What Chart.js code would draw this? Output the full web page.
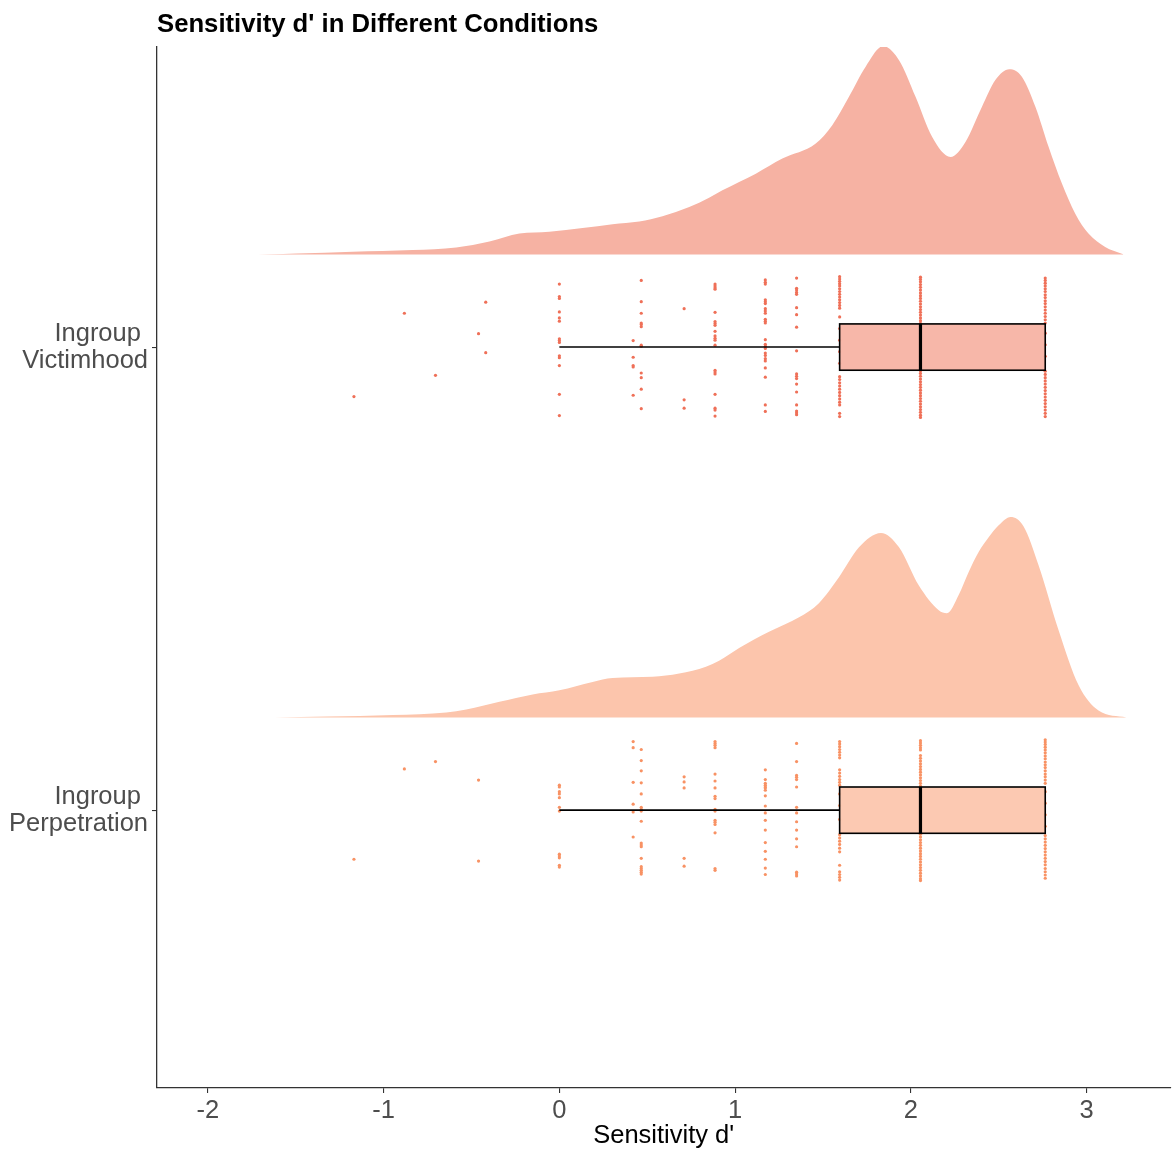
<!DOCTYPE html>
<html>
<head>
<meta charset="utf-8">
<script src="https://cdn.jsdelivr.net/npm/chart.js@4/dist/chart.umd.min.js"></script>
<style>
  html, body { margin: 0; padding: 0; background: #ffffff; }
  #wrap { width: 1172px; height: 1149px; position: relative; }
</style>
</head>
<body>
<div id="wrap"><canvas id="c"></canvas></div>
<script>
// ---- text ----
const chartTitle = "Sensitivity d' in Different Conditions";
const xAxisTitle = "Sensitivity d'";
const conditionLabels = [['Ingroup ', 'Perpetration'], ['Ingroup ', 'Victimhood']];
const conditionPos = [1, 2];
const xTicks = [-2, -1, 0, 1, 2, 3];

// ---- density estimates (d', density) ----
const perpDensityX = [-1.619, -1.326, -0.947, -0.644, -0.530, -0.341, -0.152, 0, 0.189, 0.303, 0.530, 0.682, 0.834, 0.909, 1.023, 1.193, 1.364, 1.477, 1.591, 1.705, 1.830, 1.932, 2.045, 2.159, 2.205, 2.273, 2.330, 2.386, 2.440, 2.500, 2.568, 2.642, 2.727, 2.841, 2.955, 3.068, 3.227];
const perpDensity  = [0, 0.004, 0.011, 0.022, 0.035, 0.068, 0.100, 0.118, 0.154, 0.171, 0.176, 0.190, 0.219, 0.245, 0.300, 0.370, 0.433, 0.494, 0.606, 0.735, 0.797, 0.736, 0.571, 0.463, 0.450, 0.530, 0.630, 0.715, 0.775, 0.830, 0.866, 0.825, 0.658, 0.377, 0.139, 0.030, 0];

const victimDensityX = [-1.780, -1.648, -1.496, -1.176, -0.835, -0.587, -0.398, -0.227, -0.057, 0.132, 0.303, 0.455, 0.587, 0.739, 0.852, 0.928, 1.118, 1.269, 1.459, 1.553, 1.648, 1.743, 1.843, 1.932, 2.027, 2.121, 2.226, 2.311, 2.405, 2.481, 2.561, 2.632, 2.709, 2.784, 2.860, 2.936, 3.011, 3.106, 3.201, 3.210];
const victimDensity  = [0, 0.001, 0.004, 0.012, 0.019, 0.030, 0.056, 0.090, 0.098, 0.114, 0.131, 0.142, 0.165, 0.205, 0.245, 0.277, 0.349, 0.414, 0.479, 0.558, 0.681, 0.811, 0.900, 0.840, 0.681, 0.508, 0.421, 0.486, 0.638, 0.753, 0.800, 0.768, 0.638, 0.465, 0.306, 0.176, 0.090, 0.032, 0.003, 0];

// ---- box plot summaries [perpetration, victimhood] ----
const whiskerLow = [0, 0];
const boxQ1      = [1.595, 1.595];
const boxMedian  = [2.055, 2.055];
const boxQ3      = [2.765, 2.765];
const whiskerHigh = [2.765, 2.765];

// ---- individual scores, grouped by value, with vertical jitter ----
const perpScoreLevels = [-1.169, -0.882, -0.705, -0.46, 0, 0.42, 0.466, 0.71, 0.886, 1.172, 1.35, 1.595, 2.055, 2.765];
const perpJitter = [
  [-0.106],
  [0.089],
  [0.105],
  [0.065, -0.110],
  [0.054, 0.050, 0.040, 0.035, 0.027, 0.006, -0.002, -0.095, -0.099, -0.103, -0.119, -0.123],
  [0.148, 0.135, 0.060, 0.013, -0.004, -0.058],
  [0.131, 0.107, 0.085, 0.059, 0.035, 0.006, 0.002, -0.002, -0.024, -0.071, -0.075, -0.079, -0.104, -0.122, -0.126, -0.130, -0.134, -0.138],
  [0.072, 0.061, 0.048, -0.104, -0.121],
  [0.148, 0.144, 0.140, 0.135, 0.078, 0.063, 0.048, 0.030, 0.025, 0.002, -0.002, -0.022, -0.026, -0.031, -0.049, -0.126, -0.130],
  [0.087, 0.066, 0.058, 0.054, 0.050, 0.048, 0.043, 0.031, 0.009, -0.006, -0.022, -0.043, -0.070, -0.089, -0.106, -0.125, -0.139],
  [0.144, 0.105, 0.075, 0.071, 0.066, 0.050, 0.006, -0.006, -0.025, -0.043, -0.062, -0.079, -0.134, -0.138, -0.142],
  [0.148, 0.143, 0.137, 0.131, 0.125, 0.119, 0.113, 0.087, 0.080, 0.073, 0.066, 0.060, 0.054, 0.035, 0.010, -0.020, -0.053, -0.060, -0.067, -0.074, -0.082, -0.090, -0.119, -0.133, -0.139, -0.145, -0.151],
  [0.150, 0.145, 0.140, 0.135, 0.130, 0.118, 0.112, 0.106, 0.100, 0.094, 0.088, 0.082, 0.076, 0.070, 0.064, 0.058, 0.052, 0.030, 0.000, -0.030, -0.052, -0.058, -0.064, -0.070, -0.076, -0.082, -0.088, -0.094, -0.100, -0.106, -0.112, -0.118, -0.124, -0.130, -0.136, -0.142, -0.148, -0.152],
  [0.152, 0.147, 0.142, 0.136, 0.130, 0.124, 0.117, 0.111, 0.104, 0.098, 0.092, 0.085, 0.078, 0.072, 0.065, 0.058, 0.040, 0.015, -0.010, -0.035, -0.055, -0.062, -0.069, -0.076, -0.083, -0.090, -0.097, -0.104, -0.111, -0.118, -0.126, -0.133, -0.140, -0.147]
];

const victimScoreLevels = [-1.169, -0.882, -0.705, -0.46, -0.419, 0, 0.42, 0.466, 0.71, 0.886, 1.172, 1.35, 1.595, 2.055, 2.765];
const victimJitter = [
  [-0.107],
  [0.073],
  [-0.061],
  [0.029],
  [0.097, -0.012],
  [0.136, 0.109, 0.105, 0.076, 0.063, 0.056, 0.018, 0.014, 0.010, -0.019, -0.023, -0.040, -0.102, -0.148],
  [0.014, -0.022, -0.040, -0.043, -0.104],
  [0.144, 0.098, 0.073, 0.052, 0.049, 0.044, 0.004, 0.002, -0.056, -0.066, -0.091, -0.133],
  [0.083, -0.114, -0.132],
  [0.136, 0.132, 0.128, 0.125, 0.075, 0.055, 0.051, 0.047, 0.034, 0.024, 0.019, 0.015, 0.004, -0.050, -0.054, -0.058, -0.102, -0.132, -0.136, -0.149],
  [0.145, 0.140, 0.136, 0.102, 0.098, 0.094, 0.083, 0.078, 0.073, 0.060, 0.056, 0.052, 0.016, 0.006, 0.002, -0.003, -0.013, -0.018, -0.025, -0.030, -0.045, -0.065, -0.125, -0.139],
  [0.149, 0.127, 0.123, 0.118, 0.114, 0.085, 0.070, 0.043, -0.008, -0.058, -0.063, -0.068, -0.080, -0.097, -0.125, -0.138, -0.142, -0.146],
  [0.152, 0.147, 0.142, 0.137, 0.132, 0.126, 0.120, 0.114, 0.108, 0.102, 0.096, 0.090, 0.084, 0.065, 0.040, 0.015, -0.010, -0.035, -0.064, -0.070, -0.077, -0.084, -0.091, -0.098, -0.105, -0.112, -0.119, -0.125, -0.143, -0.150],
  [0.151, 0.146, 0.141, 0.135, 0.129, 0.123, 0.117, 0.111, 0.105, 0.099, 0.093, 0.087, 0.081, 0.075, 0.069, 0.063, 0.057, 0.051, 0.030, 0.005, -0.020, -0.051, -0.057, -0.063, -0.069, -0.075, -0.081, -0.087, -0.093, -0.099, -0.105, -0.111, -0.117, -0.123, -0.129, -0.135, -0.141, -0.147, -0.152],
  [0.149, 0.144, 0.138, 0.132, 0.126, 0.120, 0.113, 0.107, 0.100, 0.094, 0.087, 0.080, 0.073, 0.066, 0.059, 0.052, 0.030, 0.005, -0.020, -0.052, -0.059, -0.066, -0.073, -0.080, -0.087, -0.094, -0.101, -0.108, -0.115, -0.122, -0.129, -0.136, -0.143, -0.150]
];

// ---- styling ----
const cloudFill  = ['rgb(252,197,172)', 'rgb(246,178,163)'];
const rainColour = ['rgb(248,146,100)', 'rgb(239,112,88)'];
const CLOUD_OFFSET = 0.2;   // cloud baseline above each condition's row
const CLOUD_SCALE = 0.5;    // vertical units per unit of density
const BOX_HALF = 0.05;      // half height of each box
const FONT = '"Liberation Sans", Arial, Helvetica, sans-serif';

function cloud(xs, dens, pos) {
  return xs.map((v, i) => ({ x: v, y: pos + CLOUD_OFFSET + dens[i] * CLOUD_SCALE }));
}
function rain(levels, jitter, pos) {
  const out = [];
  levels.forEach((lv, i) => jitter[i].forEach(j => out.push({ x: lv, y: pos + j })));
  return out;
}

const boxPlugin = {
  id: 'boxes',
  afterDatasetsDraw(chart) {
    const { ctx } = chart;
    const xs = chart.scales.x, ys = chart.scales.y;
    conditionPos.forEach((pos, i) => {
      const yTop = ys.getPixelForValue(pos + BOX_HALF);
      const yBot = ys.getPixelForValue(pos - BOX_HALF);
      const yMid = ys.getPixelForValue(pos);
      const xLo = xs.getPixelForValue(whiskerLow[i]);
      const xQ1 = xs.getPixelForValue(boxQ1[i]);
      const xMd = xs.getPixelForValue(boxMedian[i]);
      const xQ3 = xs.getPixelForValue(boxQ3[i]);
      const xHi = xs.getPixelForValue(whiskerHigh[i]);
      ctx.save();
      ctx.strokeStyle = '#000';
      ctx.lineWidth = 1.6;
      ctx.beginPath();
      ctx.moveTo(xLo, yMid); ctx.lineTo(xQ1, yMid);
      ctx.moveTo(xQ3, yMid); ctx.lineTo(xHi, yMid);
      ctx.stroke();
      ctx.fillStyle = cloudFill[i];
      ctx.globalAlpha = 0.93;
      ctx.fillRect(xQ1, yTop, xQ3 - xQ1, yBot - yTop);
      ctx.globalAlpha = 1;
      ctx.strokeRect(xQ1, yTop, xQ3 - xQ1, yBot - yTop);
      ctx.lineWidth = 3.2;
      ctx.beginPath();
      ctx.moveTo(xMd, yTop); ctx.lineTo(xMd, yBot);
      ctx.stroke();
      ctx.restore();
    });
  }
};

const titlePlugin = {
  id: 'plotTitle',
  afterDraw(chart) {
    const { ctx, chartArea } = chart;
    ctx.save();
    ctx.font = 'bold 25.7px ' + FONT;
    ctx.fillStyle = '#000';
    ctx.textAlign = 'left';
    ctx.textBaseline = 'middle';
    ctx.fillText(chartTitle, chartArea.left, 25);
    ctx.restore();
  }
};

new Chart(document.getElementById('c'), {
  type: 'scatter',
  data: {
    datasets: [
      { type: 'scatter', data: rain(victimScoreLevels, victimJitter, conditionPos[1]),
        pointRadius: 1.6, pointBackgroundColor: rainColour[1], pointBorderWidth: 0, pointHoverRadius: 1.6 },
      { type: 'scatter', data: rain(perpScoreLevels, perpJitter, conditionPos[0]),
        pointRadius: 1.6, pointBackgroundColor: rainColour[0], pointBorderWidth: 0, pointHoverRadius: 1.6 },
      { type: 'line', data: cloud(victimDensityX, victimDensity, conditionPos[1]),
        borderWidth: 0, pointRadius: 0, backgroundColor: cloudFill[1],
        fill: { value: conditionPos[1] + CLOUD_OFFSET }, cubicInterpolationMode: 'monotone' },
      { type: 'line', data: cloud(perpDensityX, perpDensity, conditionPos[0]),
        borderWidth: 0, pointRadius: 0, backgroundColor: cloudFill[0],
        fill: { value: conditionPos[0] + CLOUD_OFFSET }, cubicInterpolationMode: 'monotone' }
    ]
  },
  options: {
    responsive: true,
    maintainAspectRatio: false,
    animation: false,
    events: [],
    layout: { padding: { top: 47, right: 0, bottom: 0, left: 0 } },
    plugins: { legend: { display: false }, tooltip: { enabled: false }, title: { display: false } },
    scales: {
      x: {
        type: 'linear',
        min: -2.2898, max: 3.4773,
        afterBuildTicks: s => { s.ticks = xTicks.map(v => ({ value: v })); },
        afterFit: s => { s.height = 61; },
        grid: { drawOnChartArea: false, drawTicks: true, tickLength: 5, color: '#333333', lineWidth: 1.1 },
        border: { display: true, color: '#333333', width: 1.3 },
        ticks: { color: '#4d4d4d', font: { family: FONT, size: 25.5, lineHeight: 1 }, padding: 5, maxRotation: 0,
                 callback: v => String(v) },
        title: { display: true, text: xAxisTitle, color: '#000', font: { family: FONT, size: 25.5, lineHeight: 1 },
                 padding: { top: 0, bottom: 0 } }
      },
      y: {
        type: 'linear',
        min: 0.4, max: 2.648,
        afterBuildTicks: s => { s.ticks = conditionPos.map(v => ({ value: v })); },
        afterFit: s => { s.width = 157; },
        grid: { drawOnChartArea: false, drawTicks: true, tickLength: 5, color: '#333333', lineWidth: 1.1 },
        border: { display: true, color: '#333333', width: 1.3 },
        ticks: { color: '#4d4d4d', font: { family: FONT, size: 25.5, lineHeight: 1.06 }, padding: 4,
                 callback: v => { const i = conditionPos.indexOf(v); return i >= 0 ? conditionLabels[i] : ''; } }
      }
    }
  },
  plugins: [boxPlugin, titlePlugin]
});
</script>
</body>
</html>
